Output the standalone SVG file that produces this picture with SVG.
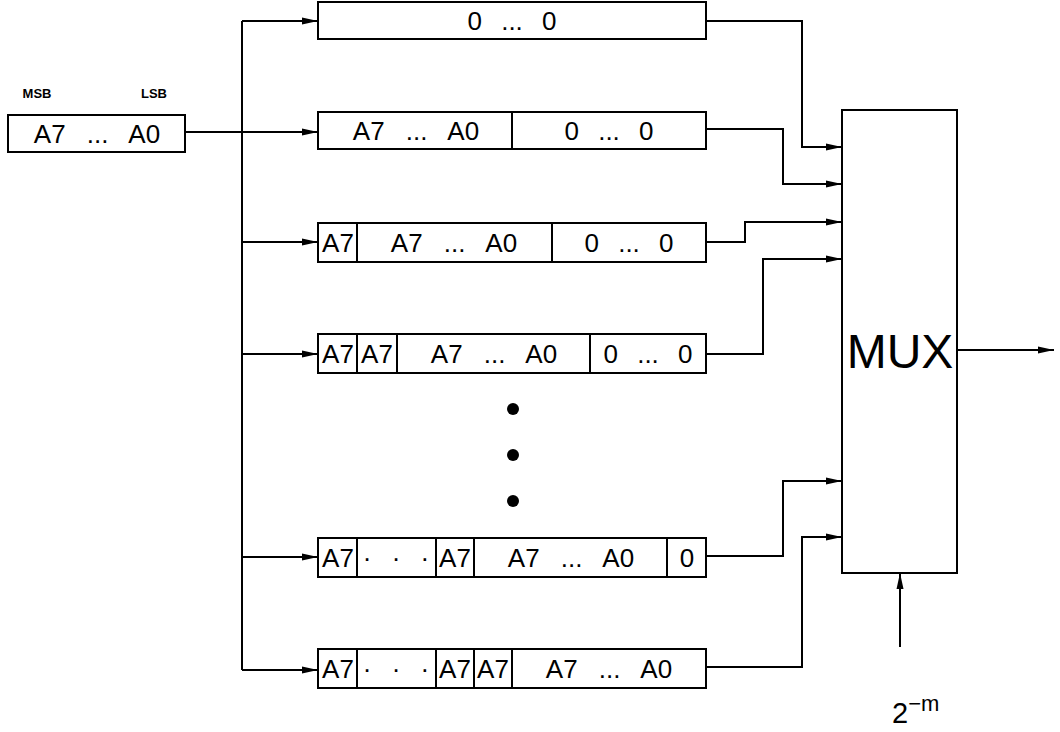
<svg xmlns="http://www.w3.org/2000/svg" width="1060" height="732" viewBox="0 0 1060 732">
<style>
.box{fill:#fff;stroke:#000;stroke-width:2}
.div{stroke:#000;stroke-width:2}
.t{font-family:"Liberation Sans",Arial,sans-serif;font-size:26px;text-anchor:middle;fill:#000;word-spacing:14px}
.lbl{font-family:"Liberation Sans",Arial,sans-serif;font-size:13px;font-weight:bold;text-anchor:middle;fill:#000}
.w{fill:none;stroke:#000;stroke-width:2}
</style>
<defs>
<marker id="ah" markerUnits="userSpaceOnUse" markerWidth="18" markerHeight="12" refX="16" refY="5" orient="auto">
<path d="M0,1.5 L16,5 L0,8.5 Z" fill="#000"/>
</marker>
</defs>
<g id="source">
<text class="lbl" x="37" y="98">MSB</text>
<text class="lbl" x="154" y="98">LSB</text>
<rect class="box" x="8" y="115" width="177" height="37"/>
<text class="t" x="97" y="143">A7 ... A0</text>
</g>
<g id="connectors">
<path class="w" d="M185,132 L242,132"/>
<path class="w" d="M242,21 L242,670"/>
<path class="w" d="M242,21 L318,21" marker-end="url(#ah)"/>
<path class="w" d="M242,132 L318,132" marker-end="url(#ah)"/>
<path class="w" d="M242,242 L318,242" marker-end="url(#ah)"/>
<path class="w" d="M242,354 L318,354" marker-end="url(#ah)"/>
<path class="w" d="M242,557 L318,557" marker-end="url(#ah)"/>
<path class="w" d="M242,670 L318,670" marker-end="url(#ah)"/>
<path class="w" d="M706,21 L802,21 L802,147 L842,147" marker-end="url(#ah)"/>
<path class="w" d="M706,129 L783,129 L783,184 L842,184" marker-end="url(#ah)"/>
<path class="w" d="M706,242 L745,242 L745,222 L842,222" marker-end="url(#ah)"/>
<path class="w" d="M706,354 L763,354 L763,259 L842,259" marker-end="url(#ah)"/>
<path class="w" d="M706,556 L783,556 L783,481 L842,481" marker-end="url(#ah)"/>
<path class="w" d="M706,667 L802,667 L802,537 L842,537" marker-end="url(#ah)"/>
<path class="w" d="M957,350 L1054,350" marker-end="url(#ah)"/>
<path class="w" d="M900,647 L900,573" marker-end="url(#ah)"/>
</g>
<g id="reg0">
<rect class="box" x="318" y="2" width="388" height="37"/>
<text class="t" x="512" y="30" style="word-spacing:12px">0 ... 0</text>
</g>
<g id="reg1">
<rect class="box" x="318" y="112" width="388" height="37"/>
<line class="div" x1="512" y1="112" x2="512" y2="149"/>
<text class="t" x="416" y="140">A7 ... A0</text>
<text class="t" x="609" y="140" style="word-spacing:12px">0 ... 0</text>
</g>
<g id="reg2">
<rect class="box" x="318" y="223" width="388" height="39"/>
<line class="div" x1="357" y1="223" x2="357" y2="262"/>
<line class="div" x1="552" y1="223" x2="552" y2="262"/>
<text class="t" x="338" y="252">A7</text>
<text class="t" x="454" y="252">A7 ... A0</text>
<text class="t" x="629" y="252" style="word-spacing:12px">0 ... 0</text>
</g>
<g id="reg3">
<rect class="box" x="318" y="334" width="388" height="39"/>
<line class="div" x1="357" y1="334" x2="357" y2="373"/>
<line class="div" x1="397" y1="334" x2="397" y2="373"/>
<line class="div" x1="590" y1="334" x2="590" y2="373"/>
<text class="t" x="338" y="363">A7</text>
<text class="t" x="377" y="363">A7</text>
<text class="t" x="494" y="363">A7 ... A0</text>
<text class="t" x="648" y="363" style="word-spacing:12px">0 ... 0</text>
</g>
<g id="ellipsis">
<circle cx="513" cy="409" r="6"/>
<circle cx="513" cy="455" r="6"/>
<circle cx="513" cy="501" r="6"/>
</g>
<g id="reg4">
<rect class="box" x="318" y="538" width="388" height="39"/>
<line class="div" x1="357" y1="538" x2="357" y2="577"/>
<line class="div" x1="436" y1="538" x2="436" y2="577"/>
<line class="div" x1="474" y1="538" x2="474" y2="577"/>
<line class="div" x1="667" y1="538" x2="667" y2="577"/>
<text class="t" x="338" y="567">A7</text>
<text class="t" x="396" y="567" style="word-spacing:13px">· · ·</text>
<text class="t" x="455" y="567">A7</text>
<text class="t" x="571" y="567">A7 ... A0</text>
<text class="t" x="687" y="567">0</text>
</g>
<g id="reg5">
<rect class="box" x="318" y="649" width="388" height="39"/>
<line class="div" x1="357" y1="649" x2="357" y2="688"/>
<line class="div" x1="436" y1="649" x2="436" y2="688"/>
<line class="div" x1="474" y1="649" x2="474" y2="688"/>
<line class="div" x1="512" y1="649" x2="512" y2="688"/>
<text class="t" x="338" y="678">A7</text>
<text class="t" x="396" y="678" style="word-spacing:13px">· · ·</text>
<text class="t" x="455" y="678">A7</text>
<text class="t" x="493" y="678">A7</text>
<text class="t" x="609" y="678">A7 ... A0</text>
</g>
<g id="mux">
<rect class="box" x="842" y="110" width="115" height="463"/>
<text x="900" y="368" style="font-family:'Liberation Sans',Arial,sans-serif;font-size:48px;text-anchor:middle">MUX</text>
</g>
<g id="select">
<text x="892" y="723" style="font-family:'Liberation Sans',Arial,sans-serif;font-size:29px">2<tspan dy="-12" font-size="22">−m</tspan></text>
</g>
</svg>
